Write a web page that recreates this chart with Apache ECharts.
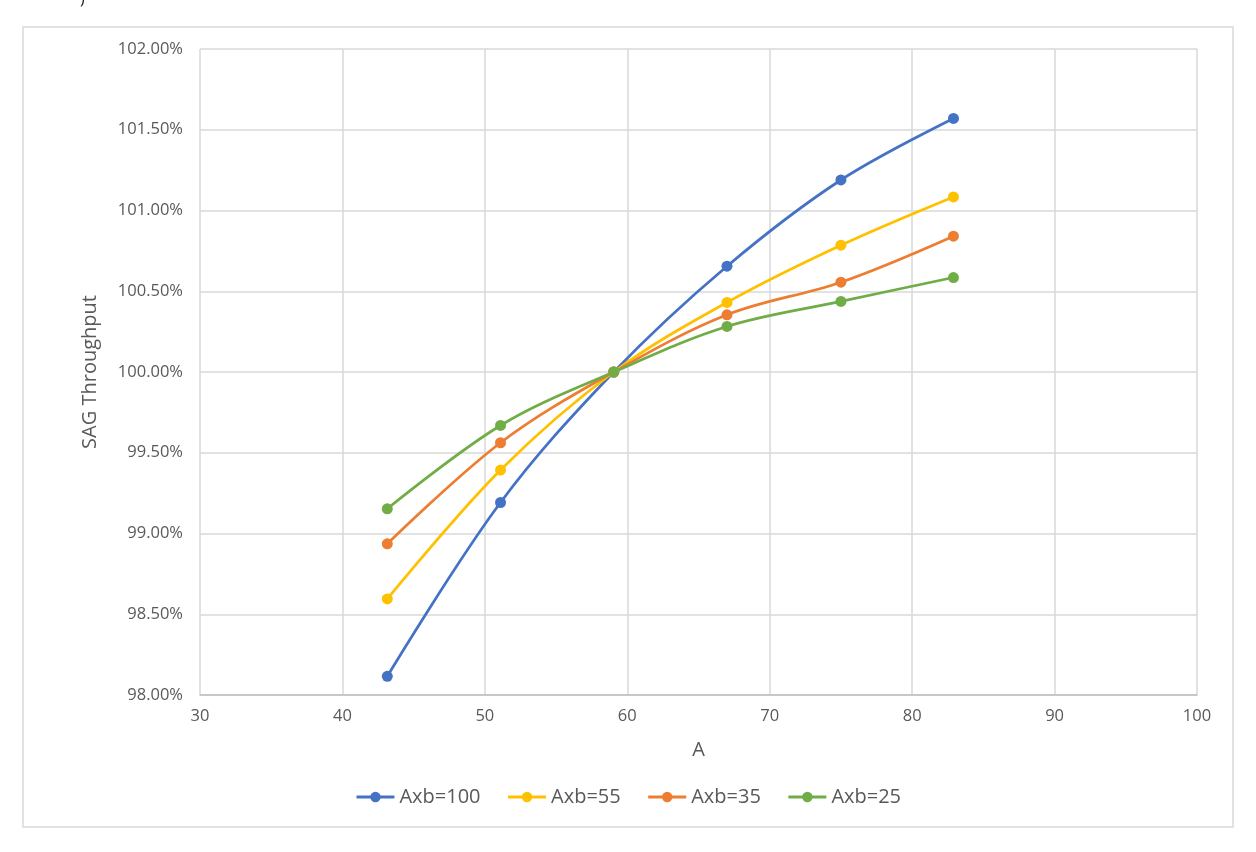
<!DOCTYPE html>
<html>
<head>
<meta charset="utf-8">
<script src="https://cdn.jsdelivr.net/npm/echarts@6/dist/echarts.min.js"></script>
<style>
html,body{margin:0;padding:0;background:#fff;}
#c{width:1256px;height:852px;}
</style>
</head>
<body>
<div id="c"></div>
<script>
const xValues = [43.15, 51.1, 59.05, 67, 75, 82.9];
const seriesNames = ['Axb=100', 'Axb=55', 'Axb=35', 'Axb=25'];
const axb100 = [98.116, 99.192, 100.0, 100.655, 101.189, 101.570];
const axb55  = [98.595, 99.393, 100.0, 100.431, 100.785, 101.084];
const axb35  = [98.936, 99.562, 100.0, 100.354, 100.556, 100.841];
const axb25  = [99.153, 99.669, 100.0, 100.282, 100.437, 100.585];
const colors = ['#4472C4', '#FFC000', '#ED7D31', '#70AD47'];
const xAxisName = 'A';
const yAxisName = 'SAG Throughput';

const font = '"Open Sans", "Noto Sans", sans-serif';
const allValues = [axb100, axb55, axb35, axb25];

const chart = echarts.init(document.getElementById('c'), null, {renderer: 'canvas'});
chart.setOption({
  backgroundColor: '#ffffff',
  animation: false,
  textStyle: {fontFamily: font},
  graphic: [
    {type: 'rect', shape: {x: 23, y: 27, width: 1210, height: 800},
     style: {fill: 'none', stroke: '#d9d9d9', lineWidth: 1.5}, silent: true, z: -1},
    {type: 'text', left: 80, top: -9, style: {text: ')', font: '16px ' + font, fill: '#222'}}
  ],
  grid: {left: 200, right: 59, top: 49, bottom: 157, containLabel: false},
  legend: {
    data: seriesNames,
    left: 'center',
    top: 782,
    itemWidth: 38,
    itemHeight: 13,
    itemGap: 26,
    lineStyle: {width: 3},
    textStyle: {fontFamily: font, fontSize: 20, color: '#595959'}
  },
  xAxis: {
    type: 'value',
    min: 30, max: 100, interval: 10,
    name: xAxisName,
    nameLocation: 'middle',
    nameGap: 45,
    nameTextStyle: {fontFamily: font, fontSize: 20, color: '#595959'},
    axisLine: {show: true, lineStyle: {color: '#bfbfbf', width: 1.5}},
    axisTick: {show: false},
    axisLabel: {color: '#595959', fontSize: 16.5, margin: 13, fontFamily: font},
    splitLine: {show: true, lineStyle: {color: '#d9d9d9', width: 1.5}}
  },
  yAxis: {
    type: 'value',
    min: 98, max: 102, interval: 0.5,
    name: yAxisName,
    nameLocation: 'middle',
    nameGap: 100,
    nameTextStyle: {fontFamily: font, fontSize: 20, color: '#595959'},
    axisLine: {show: false},
    axisTick: {show: false},
    axisLabel: {color: '#595959', fontSize: 16.5, margin: 17, fontFamily: font,
      formatter: v => v.toFixed(2) + '%'},
    splitLine: {show: true, lineStyle: {color: '#d9d9d9', width: 1.5}}
  },
  series: seriesNames.map((name, i) => ({
    name: name,
    type: 'line',
    smooth: 0.35,
    symbol: 'circle',
    symbolSize: 11,
    showSymbol: true,
    lineStyle: {color: colors[i], width: 2.75},
    itemStyle: {color: colors[i]},
    data: xValues.map((x, j) => [x, allValues[i][j]])
  }))
});
</script>
</body>
</html>
